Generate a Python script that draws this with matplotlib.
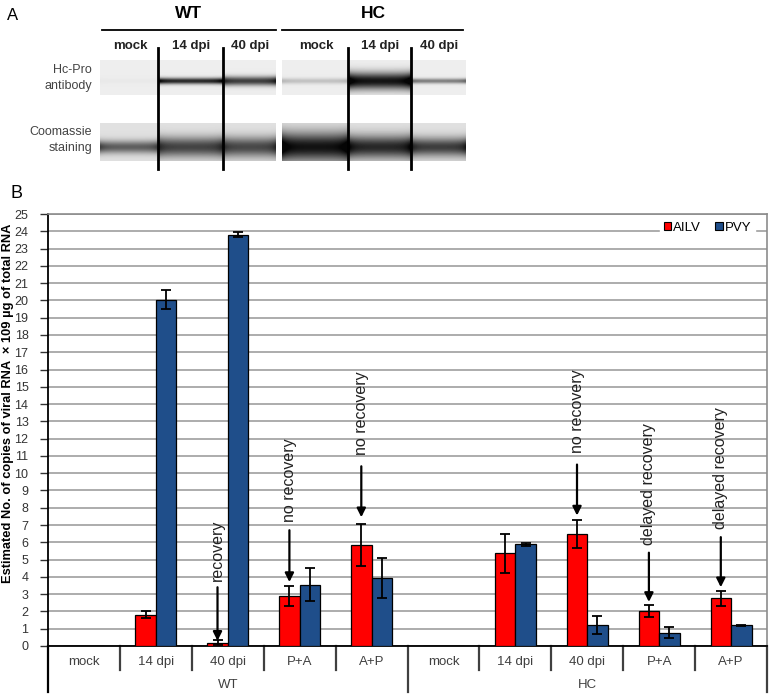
import numpy as np
import matplotlib
matplotlib.use("Agg")
import matplotlib.pyplot as plt
from matplotlib.lines import Line2D

plt.rcParams['font.family'] = ['Liberation Sans', 'DejaVu Sans']

# ---------------- data ----------------
groups = ["WT", "HC"]
categories = ["mock", "14 dpi", "40 dpi", "P+A", "A+P",
              "mock", "14 dpi", "40 dpi", "P+A", "A+P"]
series_names = ["AILV", "PVY"]
ailv = [0, 1.82, 0.2, 2.9, 5.85, 0, 5.36, 6.48, 2.0, 2.76]
ailv_err = [0, 0.2, 0.13, 0.58, 1.2, 0, 1.12, 0.8, 0.35, 0.45]
pvy = [0, 20.05, 23.8, 3.55, 3.92, 0, 5.88, 1.21, 0.78, 1.21]
pvy_err = [0, 0.55, 0.15, 0.95, 1.17, 0, 0.1, 0.5, 0.33, 0.03]
yticks = list(range(0, 26))

# annotations: (text, category index, arrow tip y, arrow start y, text centre y)
annotations = [
    ("recovery", 2, 0.3, 3.4, 5.55),
    ("no recovery", 3, 3.7, 6.7, 9.6),
    ("no recovery", 4, 7.45, 10.4, 13.5),
    ("no recovery", 7, 7.55, 10.5, 13.6),
    ("delayed recovery", 8, 2.55, 5.4, 9.4),
    ("delayed recovery", 9, 3.4, 6.3, 10.3),
]

# western blot panel A
blot_groups = ["WT", "HC"]
lanes = ["mock", "14 dpi", "40 dpi", "mock", "14 dpi", "40 dpi"]
row_labels = ["Hc-Pro\nantibody", "Coomassie\nstaining"]
hcpro_intensity = [0.02, 0.9, 0.8, 0.2, 1.0, 0.5]
hcpro_width = [2.0, 2.2, 3.2, 2.0, 6.0, 1.8]
coom_intensity = [0.6, 0.72, 0.7, 0.95, 0.85, 0.75]
coom_width = [4.5, 7.0, 7.0, 10.0, 8.0, 6.5]

W, H = 772, 697
fig = plt.figure(figsize=(W / 100, H / 100), dpi=100)

# overlay axis in pixel coordinates
ov = fig.add_axes([0, 0, 1, 1])
ov.set_xlim(0, W)
ov.set_ylim(H, 0)
ov.axis("off")

# ---------- Panel A ----------
ov.text(7, 16, "A", fontsize=12, ha="left", va="center")
ov.text(189, 13, "WT", fontsize=12.5, fontweight="bold", ha="center", va="center")
ov.text(373, 13, "HC", fontsize=12.5, fontweight="bold", ha="center", va="center")
ov.plot([102, 276], [30, 30], color="black", lw=1.3)
ov.plot([282, 463], [30, 30], color="black", lw=1.3)

lane_x = [(100, 158), (158, 223), (223, 276), (282, 348), (348, 411), (411, 466)]
for (x0, x1), name in zip(lane_x, lanes):
    ov.text((x0 + x1) / 2 + 1, 46, name, fontsize=9.5, fontweight="bold",
            ha="center", va="center", color="#222222")

ov.text(92, 78, row_labels[0], fontsize=9, ha="right", va="center",
        color="#444444", linespacing=1.45)
ov.text(92, 140, row_labels[1], fontsize=9, ha="right", va="center",
        color="#444444", linespacing=1.45)


def strip(y0, y1, centre, intens, widths, bg):
    for (x0, x1), I, s in zip(lane_x, intens, widths):
        nx, ny = int(x1 - x0), int(y1 - y0)
        yy = np.arange(ny)[:, None] + y0 + 0.5
        xx = np.arange(nx)[None, :] / max(nx - 1, 1)
        prof = np.exp(-0.5 * ((yy - centre) / s) ** 2)
        edge = 1 + 0.25 * (np.exp(-xx / 0.08) + np.exp(-(1 - xx) / 0.08))
        img = bg - I * prof * edge * 0.85
        img = np.clip(img, 0.02, 1)
        ov.imshow(img, cmap="gray", vmin=0, vmax=1, extent=[x0, x1, y1, y0],
                  aspect="auto", interpolation="bilinear", zorder=1)


strip(60, 95, 81, hcpro_intensity, hcpro_width, 0.93)
strip(123, 161, 147, coom_intensity, coom_width, 0.88)
for x in [158, 223, 348, 411]:
    ov.plot([x, x], [48, 169], color="black", lw=2, zorder=3)

ov.text(10, 194, "B", fontsize=13, ha="left", va="center")

# ---------- Panel B ----------
L, R, T, B = 48, 767, 214, 646
ax = fig.add_axes([L / W, 1 - B / H, (R - L) / W, (B - T) / H])
n = len(categories)
x = np.arange(n)
w = 0.285
red = "#ff0000"
blue = "#1f4e8a"
ax.bar(x - w / 2, ailv, w, color=red, edgecolor="black", lw=0.9, label=series_names[0], zorder=3)
ax.bar(x + w / 2, pvy, w, color=blue, edgecolor="black", lw=0.9, label=series_names[1], zorder=3)
for xs, vals, errs in [(x - w / 2, ailv, ailv_err), (x + w / 2, pvy, pvy_err)]:
    for xi, v, e in zip(xs, vals, errs):
        if v > 0:
            ax.errorbar(xi, v, yerr=e, fmt="none", ecolor="black", elinewidth=1.3,
                        capsize=3.5, capthick=1.3, zorder=4)

ax.set_xlim(-0.5, n - 0.5)
ax.set_ylim(0, 25)
ax.set_yticks(yticks)
ax.set_yticklabels([str(t) for t in yticks], fontsize=9, color="#333333")
ax.tick_params(axis="y", length=6, width=1, direction="out", pad=8, colors="#333333")
ax.set_xticks([])
ax.yaxis.grid(True, color="#a6a6a6", lw=1.3, zorder=0)
ax.set_axisbelow(True)
for s in ["top", "right"]:
    ax.spines[s].set_color("#8c8c8c")
    ax.spines[s].set_linewidth(1.2)
ax.spines["left"].set_color("black")
ax.spines["left"].set_linewidth(1.3)
ax.spines["bottom"].set_color("black")
ax.spines["bottom"].set_linewidth(1.3)

ax.set_ylabel("Estimated No. of copies of viral RNA  \u00d7 109 \u00b5g of total RNA",
              fontsize=9.3, fontweight="bold")
ax.yaxis.set_label_coords((14 - L) / (R - L), (B - 403) / (B - T))

leg = ax.legend(loc="center", bbox_to_anchor=(0.917, 0.968), ncol=2, fontsize=9.5,
                handlelength=0.55, handleheight=0.55, handletextpad=0.15,
                columnspacing=1.1, borderpad=0.3, frameon=True, fancybox=False)
leg.get_frame().set_edgecolor("white")
leg.get_frame().set_facecolor("white")
leg.get_frame().set_alpha(1)
for h in leg.legend_handles:
    h.set_edgecolor("black")
    h.set_linewidth(0.8)

# annotations
for txt, ci, tip, start, ty in annotations:
    xa = ci - w / 2
    ax.annotate("", xy=(xa, tip), xytext=(xa, start),
                arrowprops=dict(arrowstyle="-|>", color="black", lw=1.6,
                                mutation_scale=13, shrinkA=0, shrinkB=0), zorder=5)
    ax.text(xa, ty, txt, rotation=90, ha="center", va="center", fontsize=11.5,
            color="#222222", zorder=5)

# category axis with separators
trans = ax.get_xaxis_transform()
for i, c in enumerate(categories):
    ax.text(i, -16 / (B - T), c, transform=trans, ha="center", va="center",
            fontsize=9.5, color="#404040", clip_on=False)
for i in range(1, n):
    if i == 5:
        continue
    ax.add_line(Line2D([i - 0.5, i - 0.5], [0, -24 / (B - T)], transform=trans,
                       color="#404040", lw=1.6, clip_on=False))
for xb in [-0.5, 4.5, n - 0.5]:
    ax.add_line(Line2D([xb, xb], [0, -46 / (B - T)], transform=trans,
                       color="#404040" if xb != -0.5 else "black", lw=1.6, clip_on=False))
for gi, g in enumerate(groups):
    ax.text(2 + 5 * gi, -39 / (B - T), g, transform=trans, ha="center", va="center",
            fontsize=9.5, color="#404040", clip_on=False)

fig.savefig("out.png", dpi=100)
